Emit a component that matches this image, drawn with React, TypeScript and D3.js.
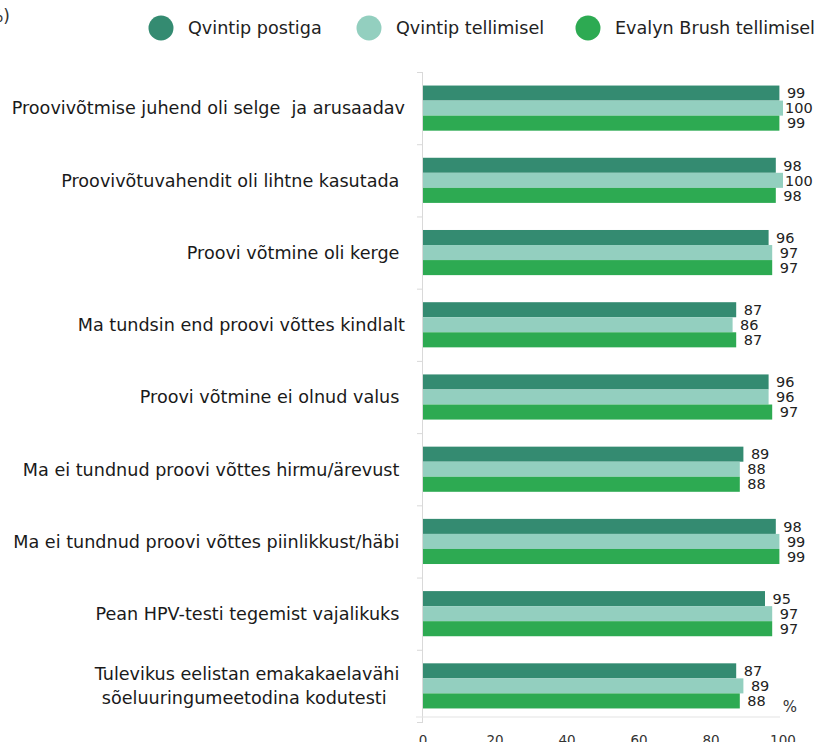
import React from 'react';
import * as d3 from 'd3';

// categories (labels keep their trailing spaces, as in the source)
const categories: string[][] = [
  ['Proovivõtmise juhend oli selge  ja arusaadav'],
  ['Proovivõtuvahendit oli lihtne kasutada '],
  ['Proovi võtmine oli kerge '],
  ['Ma tundsin end proovi võttes kindlalt'],
  ['Proovi võtmine ei olnud valus '],
  ['Ma ei tundnud proovi võttes hirmu/ärevust '],
  ['Ma ei tundnud proovi võttes piinlikkust/häbi '],
  ['Pean HPV-testi tegemist vajalikuks '],
  ['Tulevikus eelistan emakakaelavähi', 'sõeluuringumeetodina kodutesti '],
];

const seriesNames = ['Qvintip postiga', 'Qvintip tellimisel', 'Evalyn Brush tellimisel'];
const seriesColors = ['#348b71', '#93cfbf', '#2daa52'];

const qvintipPostiga = [99, 98, 96, 87, 96, 89, 98, 95, 87];
const qvintipTellimisel = [100, 100, 97, 86, 96, 88, 99, 97, 89];
const evalynTellimisel = [99, 98, 97, 87, 97, 88, 99, 97, 88];

const xTicks = [0, 20, 40, 60, 80, 100];

const FONT = '"DejaVu Sans", sans-serif';

export default function App() {
  const width = 816;
  const height = 742;
  const values = [qvintipPostiga, qvintipTellimisel, evalynTellimisel];
  const keys = categories.map((c, i) => String(i));

  const x = d3.scaleLinear().domain([0, 100]).range([423, 783]);
  const y = d3.scaleBand().domain(keys).range([72, 722]).padding(0);
  const inner = d3
    .scaleBand()
    .domain(seriesNames)
    .range([0, y.bandwidth()])
    .paddingInner(0)
    .paddingOuter(0.9);

  const labelEnd = 405;
  const valueLimit = 812;
  const labelSize = 17.6;

  return (
    <svg
      width={width}
      height={height}
      style={{ position: 'absolute', left: 0, top: 0, fontFamily: FONT }}
    >
      <rect width={width} height={height} fill="#fff" />
      <text x={10} y={22} textAnchor="end" fontSize={17} fill="#333">(%)</text>

      {/* legend */}
      {seriesNames.map((s, i) => {
        const cx = [161, 369, 588][i];
        return (
          <g key={s}>
            <circle cx={cx} cy={28} r={12.5} fill={seriesColors[i]} />
            <text x={cx + 27} y={28} dy="0.36em" fontSize={17.6} fill="#222">{s}</text>
          </g>
        );
      })}

      {/* axes */}
      <line x1={x(0) - 0.5} x2={x(0) - 0.5} y1={y.range()[0]} y2={y.range()[1]} stroke="#d9d9d9" />
      {[...keys, 'end'].map((k) => {
        const yy = k === 'end' ? y.range()[1] : (y(k) as number);
        return <line key={k} x1={417} x2={x(0)} y1={yy + 0.5} y2={yy + 0.5} stroke="#d9d9d9" />;
      })}
      <line x1={416} x2={780} y1={717} y2={717} stroke="#e3e3e3" />
      {xTicks.map((t) => (
        <text key={t} x={x(t)} y={745} textAnchor="middle" fontSize={13.5} fill="#333">{t}</text>
      ))}
      <text x={790} y={712} textAnchor="middle" fontSize={15} fill="#333">%</text>

      {/* bars */}
      {keys.map((k, ci) => (
        <g key={k} transform={`translate(0,${y(k)})`}>
          {seriesNames.map((s, si) => {
            const v = values[si][ci];
            const by = inner(s) as number;
            const w = String(v).length * 9;
            let tx = x(v) + 7.5;
            if (tx + w > valueLimit) tx = valueLimit - w;
            return (
              <g key={s}>
                <rect
                  x={x(0)}
                  y={by}
                  width={x(v) - x(0)}
                  height={inner.bandwidth()}
                  fill={seriesColors[si]}
                />
                <text x={tx} y={by + inner.bandwidth() / 2} dy="0.36em" fontSize={14.5} fill="#222">{v}</text>
              </g>
            );
          })}
        </g>
      ))}

      {/* category labels */}
      {categories.map((lines, ci) => {
        const cy = (y(keys[ci]) as number) + y.bandwidth() / 2;
        if (lines.length === 1) {
          return (
            <text key={ci} x={labelEnd} y={cy} dy="0.36em" textAnchor="end" fontSize={labelSize} fill="#1a1a1a" style={{ whiteSpace: 'pre' }}>
              {lines[0]}
            </text>
          );
        }
        return (
          <text key={ci} x={247} y={cy - 12} textAnchor="middle" fontSize={labelSize} fill="#1a1a1a" style={{ whiteSpace: 'pre' }}>
            {lines.map((l, li) => (
              <tspan key={li} x={247} dy={li === 0 ? '0.36em' : 24}>{l}</tspan>
            ))}
          </text>
        );
      })}
    </svg>
  );
}
